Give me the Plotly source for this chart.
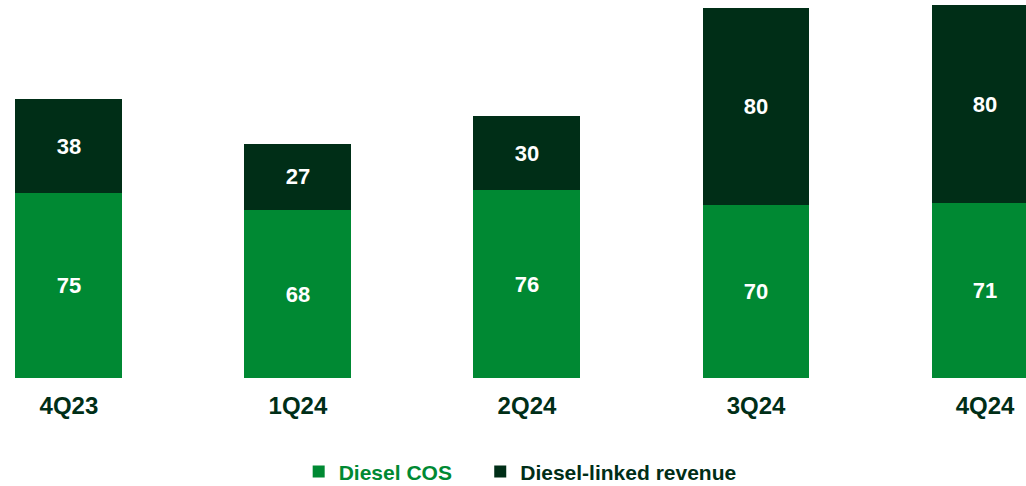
import plotly.graph_objects as go

# Diesel COS vs diesel-linked revenue by quarter
quarters = ["4Q23", "1Q24", "2Q24", "3Q24", "4Q24"]
diesel_cos = [75, 68, 76, 70, 71]
diesel_linked_revenue = [38, 27, 30, 80, 80]

GREEN = "#008933"
DARK = "#002E17"
FONT = "Arial, Liberation Sans, sans-serif"

fig = go.Figure()

fig.add_trace(go.Bar(
    x=quarters,
    y=diesel_cos,
    name=f"<span style='color:{GREEN}'>Diesel COS</span>&nbsp;&nbsp;&nbsp;&nbsp;",
    marker=dict(color=GREEN, line=dict(width=0)),
    width=0.467,
    texttemplate="%{y}",
    textposition="inside",
    insidetextanchor="middle",
    textangle=0,
    textfont=dict(family=FONT, size=22, color="white", weight="bold"),
))
fig.add_trace(go.Bar(
    x=quarters,
    y=diesel_linked_revenue,
    name=f"<span style='color:{DARK}'>Diesel-linked revenue</span>",
    marker=dict(color=DARK, line=dict(width=0)),
    width=0.467,
    texttemplate="%{y}",
    textposition="inside",
    insidetextanchor="middle",
    textangle=0,
    textfont=dict(family=FONT, size=22, color="white", weight="bold"),
))

fig.update_layout(
    barmode="stack",
    width=1026,
    height=486,
    paper_bgcolor="white",
    plot_bgcolor="white",
    font=dict(family=FONT, color=DARK),
    margin=dict(l=0, r=0, t=0, b=108, autoexpand=False),
    xaxis=dict(
        range=[-0.301, 4.179],
        showgrid=False, zeroline=False, showline=False,
        ticks="outside", ticklen=6, tickcolor="rgba(0,0,0,0)",
        tickfont=dict(family=FONT, size=24, color=DARK, weight="bold"),
        automargin=False,
    ),
    yaxis=dict(range=[0, 153.2], visible=False),
    showlegend=True,
    legend=dict(
        orientation="h",
        x=0.507, xanchor="center", xref="container",
        y=0.029, yanchor="middle", yref="container",
        font=dict(family=FONT, size=21, weight="bold"),
        bgcolor="rgba(0,0,0,0)",
        traceorder="normal",
        itemwidth=30,
    ),
    uniformtext=dict(mode="show", minsize=10),
)

fig.write_html(
    "out.html",
    config={"displayModeBar": False},
    post_script="document.body.style.margin='0';",
)
